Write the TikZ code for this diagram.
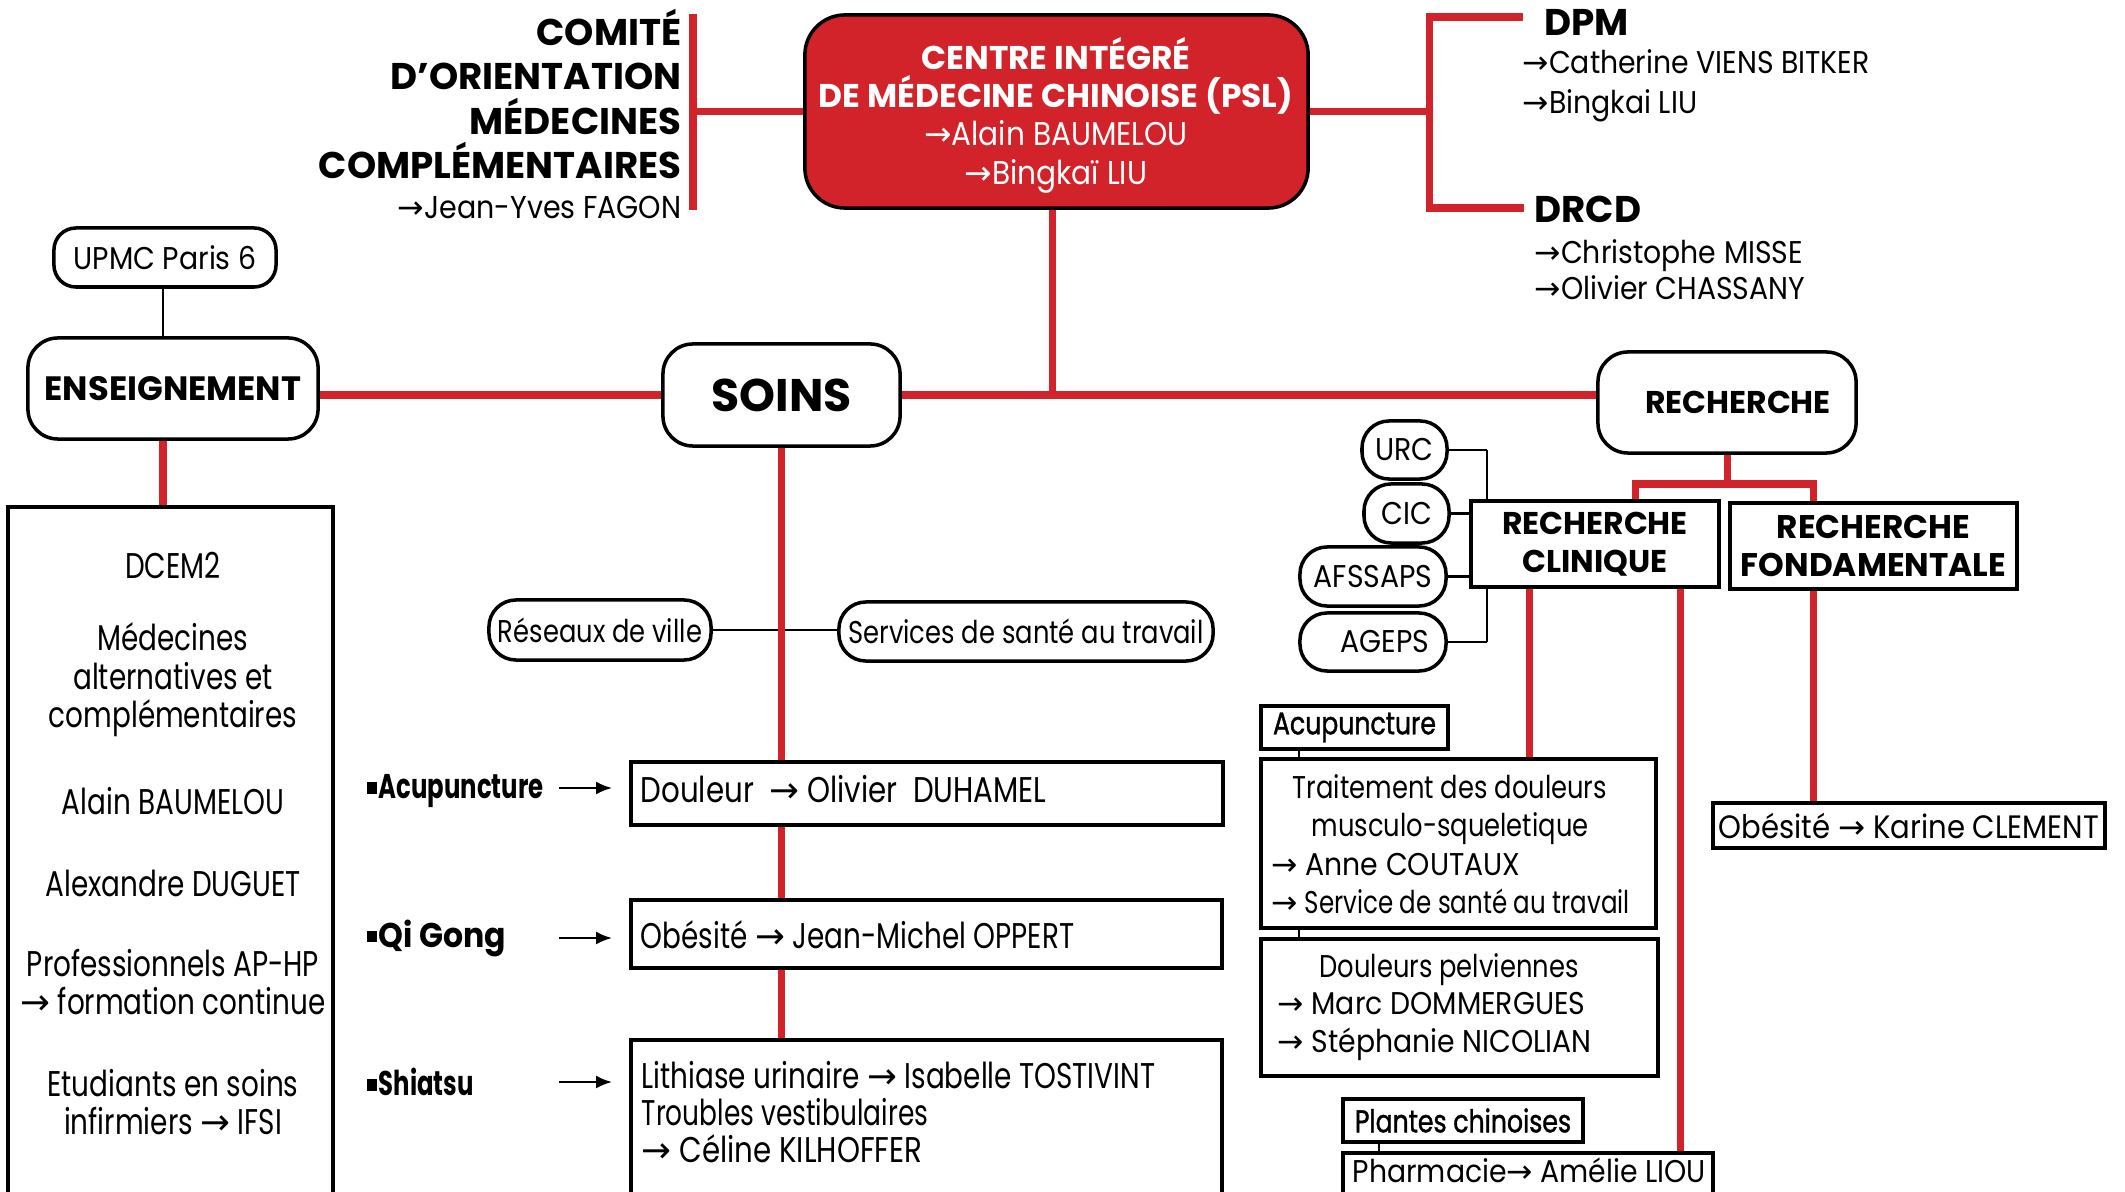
\documentclass[tikz,border=0pt]{standalone}
\usepackage{fontspec}
\setmainfont{Poppins}
\newfontfamily\fA[FakeStretch=0.82]{Poppins}
\newfontfamily\fB[FakeStretch=0.78]{Poppins}
\newfontfamily\fC[FakeStretch=0.92]{Poppins}
\newfontfamily\fE[FakeStretch=0.9]{Poppins}
\newfontfamily\fF[FakeStretch=0.78]{Poppins}
\newfontfamily\fL[FakeStretch=0.74]{Poppins}
\newfontfamily\fG[FakeStretch=0.71]{Poppins}
\newfontfamily\fM[FakeStretch=0.8,FakeBold=1.2]{Poppins}
\newfontfamily\dejavu{DejaVu Sans}
\usetikzlibrary{backgrounds,arrows.meta,calc}
\definecolor{cred}{RGB}{210,35,42}
\newcommand{\myar}{{\dejavu →}}
\newcommand{\setfs}[2]{\fontsize{#1pt}{#2pt}\selectfont}
\newcommand{\sqb}{\rule[1.4pt]{2.8pt}{3.2pt}\hspace{0.6pt}}
\begin{document}
\begin{tikzpicture}[x=0.01cm,y=-0.01cm,
  redl/.style={draw=cred,line width=2pt,line join=miter},
  thinl/.style={draw=black,line width=0.65pt},
  rbox/.style={draw=black,line width=1pt,fill=white,rounded corners=0.3cm,inner sep=0pt},
  pill/.style={draw=black,line width=1pt,fill=white,rounded corners=0.27cm,inner sep=0pt},
  sbox/.style={draw=black,line width=1pt,fill=white,inner sep=0pt},
  txt/.style={inner sep=0pt},
  lbt/.style={txt,align=center,font=\fB\setfs{10.16}{10.95}},
  ctx/.style={txt,font=\fA\setfs{8.94}{10.8}},
  arrowl/.style={draw=black,line width=0.7pt,-{Latex[length=0.16cm,width=0.13cm]}}
]
\useasboundingbox (0,0) rectangle (2125,1192);
\clip (0,0) rectangle (2125,1192);

% ---------- top ----------
\node[draw=black,line width=1pt,fill=cred,rounded corners=0.4cm,minimum width=5.03cm,minimum height=1.93cm] (centre) at (1056.5,111.5) {};
\node[txt,text=white,align=center,font=\setfs{9.35}{10.9}] (centret) at (1056,115)
  {{\bfseries CENTRE INTÉGRÉ}\\{\bfseries DE MÉDECINE CHINOISE (PSL)}\\{\fE\myar Alain BAUMELOU}\\{\fE\myar Bingkaï LIU}};

\node[txt,align=right,anchor=east,font=\setfs{10.57}{12.66}\bfseries] (comite) at (682,114)
  {COMITÉ\\D’ORIENTATION\\MÉDECINES\\COMPLÉMENTAIRES\\[-1.3pt]{\fE\mdseries\setfs{9.0}{10}\myar Jean-Yves FAGON}};

\node[txt,anchor=base west,font=\setfs{10.57}{12}\bfseries] (dpm) at (1544,36) {DPM};
\node[txt,anchor=west,align=left,font=\fE\setfs{8.94}{11.38}] (dpmn) at (1522,86) {\myar Catherine VIENS BITKER\\\myar Bingkai LIU};
\node[txt,anchor=base west,font=\setfs{10.57}{12}\bfseries] (drcd) at (1534,223) {DRCD};
\node[txt,anchor=west,align=left,font=\fE\setfs{8.94}{10.24}] (drcdn) at (1534,270) {\myar Christophe MISSE\\\myar Olivier CHASSANY};

% ---------- left ----------
\node[pill,rounded corners=0.22cm,minimum width=2.22cm,minimum height=0.59cm,font=\fE\setfs{8.94}{10}] (upmc) at (165,257.5) {UPMC Paris 6};
\node[rbox,minimum width=2.9cm,minimum height=1.01cm,font=\setfs{9.6}{11}\bfseries] (ens) at (173,388.5) {ENSEIGNEMENT};
\node[sbox,minimum width=3.25cm,minimum height=6.93cm] (lbox) at (170.5,853.5) {};
\node[lbt] (lb1) at (173,565) {DCEM2};
\node[lbt] (lb2) at (173,680) {Médecines\\alternatives et\\complémentaires};
\node[lbt] (lb3) at (173,801) {Alain BAUMELOU};
\node[lbt] (lb4) at (173,883) {Alexandre DUGUET};
\node[lbt] (lb5) at (173,982) {Professionnels AP-HP\\\myar\ formation continue};
\node[lbt] (lb6) at (173,1102) {Etudiants en soins\\infirmiers \myar\ IFSI};

% ---------- soins ----------
\node[rbox,minimum width=2.37cm,minimum height=1.02cm,font=\setfs{13}{15}\bfseries] (soins) at (781.5,395) {SOINS};
\node[pill,minimum width=2.22cm,minimum height=0.6cm,font=\fA\setfs{8.94}{10}] (reseaux) at (600,630) {Réseaux de ville};
\node[pill,minimum width=3.74cm,minimum height=0.59cm,font=\fA\setfs{8.94}{10}] (services) at (1026,631.5) {Services de santé au travail};
\node[sbox,minimum width=5.92cm,minimum height=0.63cm] (doul) at (927,793.5) {};
\node[txt,anchor=west,font=\fA\setfs{10.16}{10.5}] (doult) at (640,789) {Douleur\ \ \myar\ Olivier\ \ DUHAMEL};
\node[sbox,minimum width=5.91cm,minimum height=0.68cm] (obes) at (926.5,934) {};
\node[txt,anchor=west,font=\fF\setfs{10.16}{10.5}] (obest) at (640,935) {Obésité \myar\ Jean-Michel OPPERT};
\node[sbox,minimum width=5.91cm,minimum height=1.7cm] (lith) at (926.5,1125) {};
\node[txt,anchor=west,align=left,font=\fA\setfs{10.16}{10.5}] (litht) at (641,1112) {{\fF Lithiase urinaire \myar\ Isabelle TOSTIVINT}\\{\fL Troubles vestibulaires}\\\myar\ Céline KILHOFFER};

\node[txt,anchor=west,font=\fG\setfs{9.75}{11}\bfseries] (acu) at (366,791) {\sqb Acupuncture};
\node[txt,anchor=west,font=\fC\setfs{9.75}{11}\bfseries] (qig) at (366,938) {\sqb Qi Gong};
\node[txt,anchor=west,font=\fG\setfs{9.75}{11}\bfseries] (shi) at (366,1082) {\sqb Shiatsu};

% ---------- recherche ----------
\node[rbox,minimum width=2.58cm,minimum height=1.01cm,font=\setfs{8.94}{10}\bfseries] (rech) at (1727,402.5) {\hspace*{0.22cm}RECHERCHE};
\node[sbox,minimum width=2.48cm,minimum height=0.86cm,align=center,font=\setfs{8.94}{10.8}\bfseries] (rc) at (1595,544) {RECHERCHE\\CLINIQUE};
\node[sbox,minimum width=2.87cm,minimum height=0.86cm,align=center,font=\setfs{9.3}{10.8}\bfseries] (rf) at (1873.5,546) {RECHERCHE\\FONDAMENTALE};

\node[pill,minimum width=0.85cm,minimum height=0.58cm,font=\fE\setfs{8.94}{10}] (urc) at (1404.5,450) {URC};
\node[pill,minimum width=0.85cm,minimum height=0.59cm,font=\fE\setfs{8.94}{10}] (cic) at (1406.5,513.5) {CIC};
\node[pill,minimum width=1.46cm,minimum height=0.59cm,font=\fE\setfs{8.94}{10}] (afs) at (1373,576.5) {AFSSAPS};
\node[pill,minimum width=1.46cm,minimum height=0.58cm,font=\fE\setfs{8.94}{10}] (agep) at (1373,642) {\hspace*{0.24cm}AGEPS};

\node[sbox,minimum width=1.87cm,minimum height=0.43cm,font=\fM\setfs{8.94}{10}] (acup2) at (1354.5,727.5) {Acupuncture};
\node[sbox,minimum width=3.95cm,minimum height=1.69cm] (trait) at (1458.5,843.5) {};
\node[ctx,align=center] (trt1) at (1450,810) {Traitement des douleurs\\musculo-squeletique};
\node[ctx,anchor=west,align=left] (trt2) at (1271,884) {{\fE\myar\ Anne COUTAUX}\\{\fF\myar\ Service de santé au travail}};
\node[sbox,minimum width=3.97cm,minimum height=1.37cm] (pelv) at (1459.5,1007.5) {};
\node[ctx] (pv1) at (1449,970) {Douleurs pelviennes};
\node[ctx,anchor=west,align=left,font=\fE\setfs{8.94}{10.8}] (pv2) at (1277,1026) {\myar\ Marc DOMMERGUES\\\myar\ Stéphanie NICOLIAN};
\node[sbox,minimum width=2.4cm,minimum height=0.43cm,font=\fM\setfs{8.94}{10}] (plantes) at (1463,1120.5) {Plantes chinoises};
\node[sbox,minimum width=3.7cm,minimum height=0.54cm] (pharm) at (1528,1180) {};
\node[ctx,anchor=west,font=\fE\setfs{8.94}{10}] (pharmt) at (1352,1170) {Pharmacie\myar\ Amélie LIOU};
\node[sbox,minimum width=3.92cm,minimum height=0.45cm,font=\fE\setfs{9.2}{10}] (kar) at (1909,825.5) {Obésité \myar\ Karine CLEMENT};

% ---------- coordinates ----------
\coordinate (ct) at (693,14);
\coordinate (cb) at (693,210);
\coordinate (bt) at (1523,17);
\coordinate (bb) at (1524,208);
\coordinate (bx) at (1429,0);
\coordinate (cx) at (1052,0);
\coordinate (ex) at (163,0);
\coordinate (rcd) at (1635,484);
\coordinate (rfd) at (1813,484);
\coordinate (rc1) at (1529,0);
\coordinate (rc2) at (1680,0);
\coordinate (vx) at (1487,0);
\coordinate (ac1) at (1299,0);
\coordinate (pl1) at (1379,0);

% ---------- connectors ----------
\begin{scope}[on background layer]
\fill[white] (0,0) rectangle (2125,1192);
% thin black
\draw[thinl] (upmc.south -| ex) -- (ens.north -| ex);
\draw[thinl] (reseaux.east) -- (reseaux.east -| services.west);
\draw[thinl] (urc.east) -- (urc.east -| vx);
\draw[thinl] (urc.east -| vx) -- (agep.east -| vx);
\draw[thinl] (agep.east) -- (agep.east -| vx);
\draw[thinl] (cic.east) -- (cic.east -| rc.west);
\draw[thinl] (afs.east) -- (afs.east -| rc.west);
\draw[thinl] (acup2.south -| ac1) -- (trait.north -| ac1);
\draw[thinl] (trait.south -| ac1) -- (pelv.north -| ac1);
\draw[thinl] (plantes.south -| pl1) -- (pharm.north -| pl1);
% red
\draw[redl] (ct) -- (cb);
\draw[redl] (centre.west) -- (centre.west -| ct);
\draw[redl] (centre.east) -- (centre.east -| bx);
\draw[redl] (bt) -- (bt -| bx) -- (bb -| bx) -- (bb);
\draw[redl] (centre.south -| cx) -- (soins.east -| cx);
\draw[redl] (soins.west -| ens.east) -- (soins.west);
\draw[redl] (soins.east) -- (soins.east -| rech.west);
\draw[redl] (ens.south -| ex) -- (lbox.north -| ex);
\draw[redl] (soins.south) -- (soins.south |- lith.north);
\draw[redl] (rech.south) -- (rech.south |- rcd);
\draw[redl] (rcd |- rc.north) -- (rcd) -- (rfd) -- (rfd |- rf.north);
\draw[redl] (rc.south -| rc1) -- (trait.north -| rc1);
\draw[redl] (rc.south -| rc2) -- (pharm.north -| rc2);
\draw[redl] (rf.south -| rfd) -- (kar.north -| rfd);
\end{scope}

% arrows
\draw[arrowl] ($(doul.west |- acu)+(-70,-3)$) -- ($(doul.west |- acu)+(-17,-3)$);
\draw[arrowl] ($(obes.west |- qig)+(-70,0)$) -- ($(obes.west |- qig)+(-17,0)$);
\draw[arrowl] ($(lith.west |- shi)+(-70,0)$) -- ($(lith.west |- shi)+(-17,0)$);
\end{tikzpicture}
\end{document}
